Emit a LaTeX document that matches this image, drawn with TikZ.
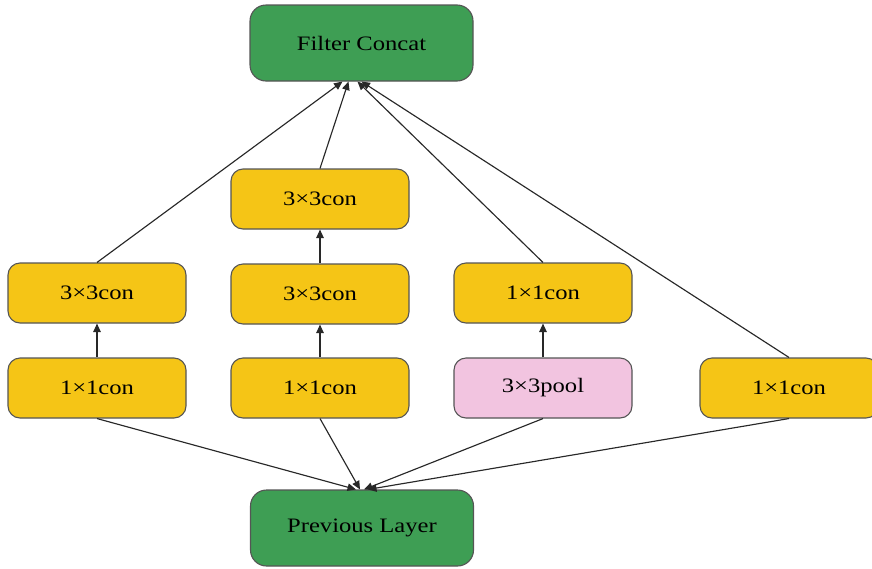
\documentclass[tikz,border=0pt]{standalone}
\usepackage{fontspec}
\setmainfont[FakeStretch=1.2]{Liberation Serif}
\usetikzlibrary{arrows.meta}
\definecolor{layergreen}{RGB}{62,158,84}
\definecolor{convyellow}{RGB}{245,197,22}
\definecolor{poolpink}{RGB}{242,196,224}
\definecolor{boxedge}{RGB}{85,85,85}
\definecolor{wire}{RGB}{40,40,40}
\begin{document}
\begin{tikzpicture}[x=1pt,y=-1pt,
  box/.style={draw=boxedge, line width=1.1pt, rounded corners=12pt,
    minimum width=178pt, minimum height=60pt, inner sep=0pt,
    font=\fontsize{20.5}{24}\selectfont, text=black},
  conv/.style={box, fill=convyellow},
  pool/.style={box, fill=poolpink},
  layer/.style={box, fill=layergreen, minimum width=223pt, minimum height=76pt, rounded corners=16pt},
  link/.style={draw=wire, line width=1.15pt, -{Triangle[length=8.5pt,width=7.5pt]}}]
\useasboundingbox (0,0) rectangle (872,568);

% input and output layers
\node[layer] (concat) at (361.5,43) {Filter Concat};
\node[layer] (prev) at (362,528) {Previous Layer};

% branch 1: 1x1 -> 3x3
\node[conv] (b1a) at (97,388) {1×1con};
\node[conv] (b1b) at (97,293) {3×3con};
% branch 2: 1x1 -> 3x3 -> 3x3
\node[conv] (b2a) at (320,388) {1×1con};
\node[conv] (b2b) at (320,294) {3×3con};
\node[conv] (b2c) at (320,199) {3×3con};
% branch 3: pool -> 1x1
\node[pool] (b3a) at (543,388) {3×3pool};
\node[conv] (b3b) at (543,293) {1×1con};
% branch 4: 1x1
\node[conv] (b4a) at (789,388) {1×1con};

% inside the branches
\draw[link] (b1a) -- (b1b);
\draw[link] (b2a) -- (b2b);
\draw[link] (b2b) -- (b2c);
\draw[link] (b3a) -- (b3b);

% branches into the concatenation
\draw[link] (b1b.north) -- ([xshift=-19pt]concat.south);
\draw[link] (b2c.north) -- ([xshift=-13pt]concat.south);
\draw[link] (b3b.north) -- ([xshift=-4pt]concat.south);
\draw[link] (b4a.north) -- ([xshift=0pt]concat.south);

% branches to the previous layer
\draw[link] (b1a.south) -- ([xshift=-6pt]prev.north);
\draw[link] (b2a.south) -- ([xshift=-2pt]prev.north);
\draw[link] (b3a.south) -- ([xshift=2pt]prev.north);
\draw[link] (b4a.south) -- ([xshift=6pt]prev.north);
\end{tikzpicture}
\end{document}
